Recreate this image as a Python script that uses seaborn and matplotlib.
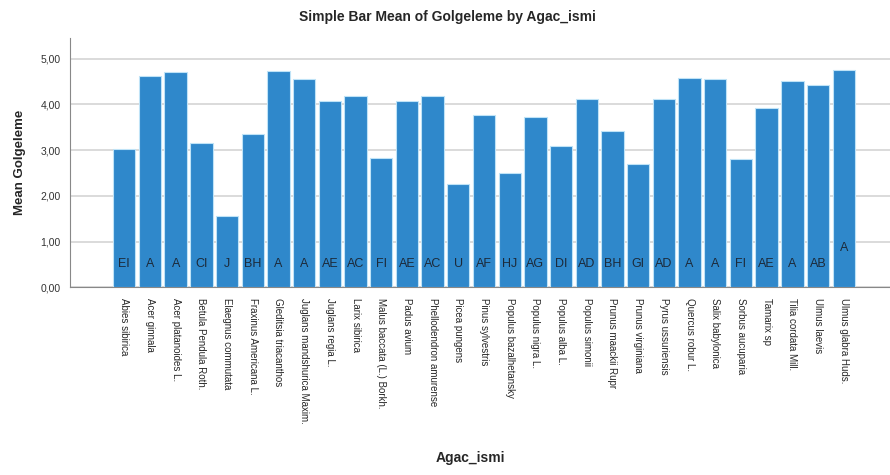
import seaborn as sns
import matplotlib.pyplot as plt
import pandas as pd

# Agac_ismi categories and mean Golgeleme
agac = ["Abies sibirica", "Acer ginnala", "Acer platanoides L.", "Betula Pendula Roth.",
        "Elaegnus commutata", "Fraxinus Americana L.", "Gleditsia triacanthos",
        "Juglans mandshurica Maxim.", "Juglans regia L.", "Larix sibirica",
        "Malus baccata (L.) Borkh.", "Padus avium", "Phellodendron amurense",
        "Picea pungens", "Pinus sylvestris", "Populus bazalhetansky", "Populus nigra L.",
        "Populus alba L.", "Populus simonii", "Prunus maackii Rupr", "Prunus virginiana",
        "Pyrus ussuriensis", "Quercus robur L.", "Salix babylonica", "Sorbus aucuparia",
        "Tamarix sp", "Tilia cordata Mill.", "Ulmus laevis", "Ulmus glabra Huds."]
golgeleme = [3.03, 4.63, 4.71, 3.16, 1.57, 3.36, 4.73, 4.56, 4.07, 4.18,
             2.83, 4.07, 4.18, 2.25, 3.76, 2.49, 3.72, 3.10, 4.11, 3.42,
             2.69, 4.11, 4.57, 4.56, 2.80, 3.93, 4.52, 4.42, 4.75]
harfler = ["EI", "A", "A", "CI", "J", "BH", "A", "A", "AE", "AC",
           "FI", "AE", "AC", "U", "AF", "HJ", "AG", "DI", "AD", "BH",
           "GI", "AD", "A", "A", "FI", "AE", "A", "AB", "A"]

df = pd.DataFrame({"Agac_ismi": agac, "Golgeleme": golgeleme})

sns.set_style("white")
plt.rcParams['font.family'] = ['Liberation Sans', 'DejaVu Sans']

fig = plt.figure(figsize=(8.9, 4.75), dpi=100)
ax = fig.add_axes([0.079, 0.395, 0.921, 0.525])

sns.barplot(data=df, x="Agac_ismi", y="Golgeleme", color="#2f88cb", saturation=1,
            width=0.87, edgecolor="#bfe3f7", linewidth=0.8, ax=ax, zorder=3)

for i, h in enumerate(harfler):
    yy = 0.85 if i == len(harfler) - 1 else 0.52
    ax.text(i, yy, h, ha="center", va="center", fontsize=9, color="#1c2a3a", zorder=4)

ax.set_ylim(0, 5.45)
ax.set_xlim(-2.1, 29.8)
ax.set_yticks([0, 1, 2, 3, 4, 5])
ax.set_yticklabels(["0,00", "1,00", "2,00", "3,00", "4,00", "5,00"], fontsize=7.5, color="#333333")
ax.yaxis.grid(True, color="#d4d4d4", linewidth=1.2, zorder=0)
ax.tick_params(axis="x", labelrotation=270, labelsize=7, pad=4)
for lab in ax.get_xticklabels():
    lab.set_va("top")
for s in ["top", "right"]:
    ax.spines[s].set_visible(False)
ax.spines["left"].set_color("#888888")
ax.spines["bottom"].set_color("#888888")

ax.set_ylabel("Mean Golgeleme", fontsize=9.5, fontweight="bold", labelpad=10)
ax.set_xlabel("")
fig.text(0.528, 0.028, "Agac_ismi", ha="center", fontsize=10, fontweight="bold")
fig.text(0.503, 0.955, "Simple Bar Mean of Golgeleme by Agac_ismi", ha="center",
         fontsize=10, fontweight="bold")

plt.savefig("out.png", dpi=100)
